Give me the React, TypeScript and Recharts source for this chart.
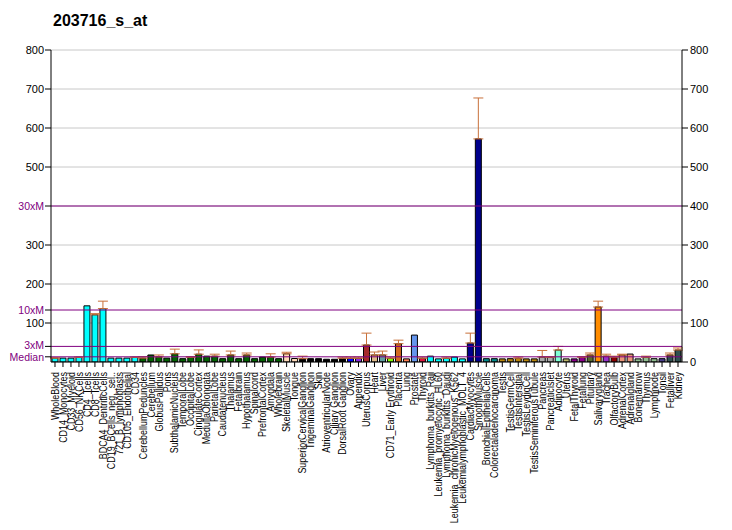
import React from 'react';
import { BarChart, Bar, XAxis, YAxis, CartesianGrid, ReferenceLine, ErrorBar, Cell } from 'recharts';

const categories: string[] = [
  'WholeBlood', 'CD14_Monocytes', 'CD33_Myeloid', 'CD56_NKCells', 'CD4_Tcells', 'CD8_Tcells',
  'BDCA4_DentriticCells', 'CD19_BCells_neg._sel..', '721_B_lymphoblasts', 'CD105_Endothelial', 'CD34',
  'CerebellumPeduncles', 'Cerebellum', 'GlobusPallidus', 'Pons', 'SubthalamicNucleus', 'TemporalLobe',
  'OccipitalLobe', 'CingulateCortex', 'MedullaOblongata', 'ParietalLobe', 'Caudatenucleus', 'Thalamus',
  'Fetalbrain', 'Hypothalamus', 'Spinalcord', 'PrefrontalCortex', 'Amygdala', 'Wholebrain',
  'SkeletalMuscle', 'Tongue', 'SuperiorCervicalGanglion', 'TrigeminalGanglion', 'Skin',
  'AtrioventricularNode', 'Ciliary Ganglion', 'DorsalRoot Ganglion', 'Ovary', 'Appendix', 'UterusCorpus',
  'Heart', 'Liver', 'CD71_Early Erythroid', 'Placenta', 'Lung', 'Prostate', 'Thyroid',
  'Lymphoma_burkitts_Raji', 'Leukemia_promyelocytic_HL60', 'Lymphoma_burkitts_Daudi',
  'Leukemia_chronicMyelogenous_K562', 'Leukemialymphoblastic_MOLT_4', 'CardiacMyocytes', 'SmoothMuscle',
  'BronchialEpithelialCells', 'Colorectaladenocarcinoma', 'Testis', 'TestisGermCell', 'TestisIntersitial',
  'TestisLeydigCell', 'TestisSeminiferousTubule', 'Pancreas', 'PancreaticIslet', 'Adipocyte', 'Uterus',
  'FetalThyroid', 'Fetallung', 'Pituitary', 'Salivarygland', 'Trachea', 'OlfactoryBulb', 'AdrenalCortex',
  'Adrenalgland', 'Bonemarrow', 'Thymus', 'Lymphnode', 'Tonsil', 'Fetalliver', 'Kidney',
];

const values: number[] = [
  10, 10, 10, 12, 144, 121, 137, 10, 10, 10, 12,
  10, 18, 13, 10, 21, 8.5, 12, 20, 15, 15, 8.5, 18, 8.5, 18, 8.5, 12.7, 12.7, 8.5,
  21, 9, 8.5, 8.5, 8.5, 7, 7, 9.5, 9.5, 9.5, 43.5,
  18, 18, 9.5, 47, 8, 69, 9.5,
  15, 8, 9.5, 12.7, 8, 48.6, 572,
  8.5, 8.5, 8, 8.5, 9.5, 8, 8, 12.7, 12, 30.7, 8,
  8, 12, 18, 141, 15, 12, 18, 20.4, 8, 12, 8.5, 8.5, 18, 30.7,
];

const errorTops: (number | null)[] = [
  11, null, null, 12.5, null, 124, 156, null, null, null, 12.5,
  13.6, null, 18, null, 33, null, 13.6, 31, null, 20, null, 28, null, 23, null, null, 21, null,
  25, null, 15, null, null, null, null, 12.7, 12.7, 12.7, 74,
  25.6, 28, 12.7, 56, null, null, 12.7,
  null, null, 12.7, null, null, 74, 677,
  null, null, null, null, 12.7, null, null, 29.6, 13.6, 40, null,
  null, 13.6, 23, 156, 20, 15, 20, null, null, 15, null, null, 23, 36,
];

const colors: string[] = [
  '#00FFFF', '#00FFFF', '#00FFFF', '#00FFFF', '#00FFFF', '#00FFFF', '#00FFFF', '#00FFFF', '#00FFFF', '#00FFFF', '#00FFFF',
  '#006400', '#006400', '#006400', '#006400', '#006400', '#006400', '#006400', '#006400', '#006400',
  '#006400', '#006400', '#006400', '#006400', '#006400', '#006400', '#006400', '#006400', '#006400',
  '#FFDAB9', '#FFDAB9', '#000000', '#000000', '#000000', '#000000', '#000000', '#000000',
  '#0000FF', '#8A2BE2', '#A52A2A', '#DEB887', '#5F9EA0', '#7FFF00', '#D2691E', '#FF7F50', '#6495ED', '#DC143C',
  '#00FFFF', '#00FFFF', '#00FFFF', '#00FFFF', '#00FFFF', '#00008B', '#00008B', '#008B8B', '#008B8B',
  '#B8860B', '#B8860B', '#B8860B', '#B8860B', '#B8860B', '#A9A9A9', '#A9A9A9', '#7FFFD4', '#BDB76B',
  '#8B008B', '#8B008B', '#556B2F', '#FF8C00', '#9932CC', '#8B0000', '#E9967A', '#E9967A',
  '#8FBC8F', '#8FBC8F', '#8FBC8F', '#483D8B', '#2F4F4F', '#2F4F4F',
];

const rightTicks: number[] = [0, 100, 200, 300, 400, 500, 600, 700, 800];
const median = 400 / 30;
const markerValues: number[] = [median, median * 3, median * 10, median * 30];
const markerLabels: string[] = ['Median', '3xM', '10xM', '30xM'];
const leftTicks: number[] = [median, median * 3, 100, median * 10, 200, 300, median * 30, 500, 600, 700, 800];

const data = categories.map((name, i) => ({
  name,
  value: values[i],
  err: errorTops[i] == null ? null : [0, (errorTops[i] as number) - values[i]],
}));

const FONT = 'Arial, "Liberation Sans", Helvetica, sans-serif';

const LeftTick = (props: any) => {
  const { x, y, payload } = props;
  const idx = markerValues.findIndex((m) => Math.abs(m - payload.value) < 0.01);
  const isMarker = idx >= 0;
  const dyShift = idx === 0 ? 1 : idx === 1 ? -1 : 0;
  return (
    <text x={x} y={y + dyShift} dy="0.35em" textAnchor="end" fontSize={isMarker ? 10.5 : 11} fontFamily={FONT}
      fill={isMarker ? '#800080' : '#000000'}>
      {isMarker ? markerLabels[idx] : String(payload.value)}
    </text>
  );
};

const XTick = (props: any) => {
  const { x, y, payload } = props;
  return (
    <text transform={`translate(${x},${y + 3}) rotate(-90) scale(0.85,1)`} x={0} y={0} dy="0.35em" textAnchor="end"
      fontSize={10.5} fontFamily={FONT} fill="#000000">
      {payload.value}
    </text>
  );
};

export default function App() {
  return (
    <div style={{ position: 'absolute', left: 0, top: 0, width: 732, height: 530, background: '#ffffff' }}>
      <div style={{ position: 'absolute', left: 53, top: 12, fontFamily: FONT, fontSize: 16, fontWeight: 'bold', color: '#000' }}>
        203716_s_at
      </div>
      <BarChart width={732} height={530} data={data} margin={{ top: 50, right: 0, bottom: 0, left: 0 }}
        barCategoryGap={1}>
        <CartesianGrid yAxisId="right" vertical={false} stroke="#C8C8C8" />
        <XAxis dataKey="name" interval={0} height={168} tick={<XTick />} tickSize={5}
          stroke="#000000" axisLine={{ stroke: '#000000' }} tickLine={{ stroke: '#000000' }} />
        <YAxis yAxisId="left" width={51} domain={[0, 800]} ticks={leftTicks} tick={<LeftTick />} interval={0}
          tickSize={6} tickMargin={1} stroke="#000000" allowDataOverflow />
        <YAxis yAxisId="right" orientation="right" width={50} domain={[0, 800]} ticks={rightTicks} interval={0}
          tick={{ fontSize: 11, fontFamily: FONT, fill: '#000000' }} tickSize={6} tickMargin={2}
          stroke="#000000" allowDataOverflow />
        <Bar yAxisId="left" dataKey="value" barSize={6} stroke="#000000" strokeWidth={1} isAnimationActive={false}>
          {data.map((d, i) => (
            <Cell key={d.name} fill={colors[i]} />
          ))}
          <ErrorBar dataKey="err" direction="y" width={5} stroke="#C8703A" strokeWidth={1} isAnimationActive={false} />
        </Bar>
        {markerValues.map((m) => (
          <ReferenceLine key={m} yAxisId="left" y={m} stroke="#800080" strokeWidth={1} />
        ))}
      </BarChart>
    </div>
  );
}
